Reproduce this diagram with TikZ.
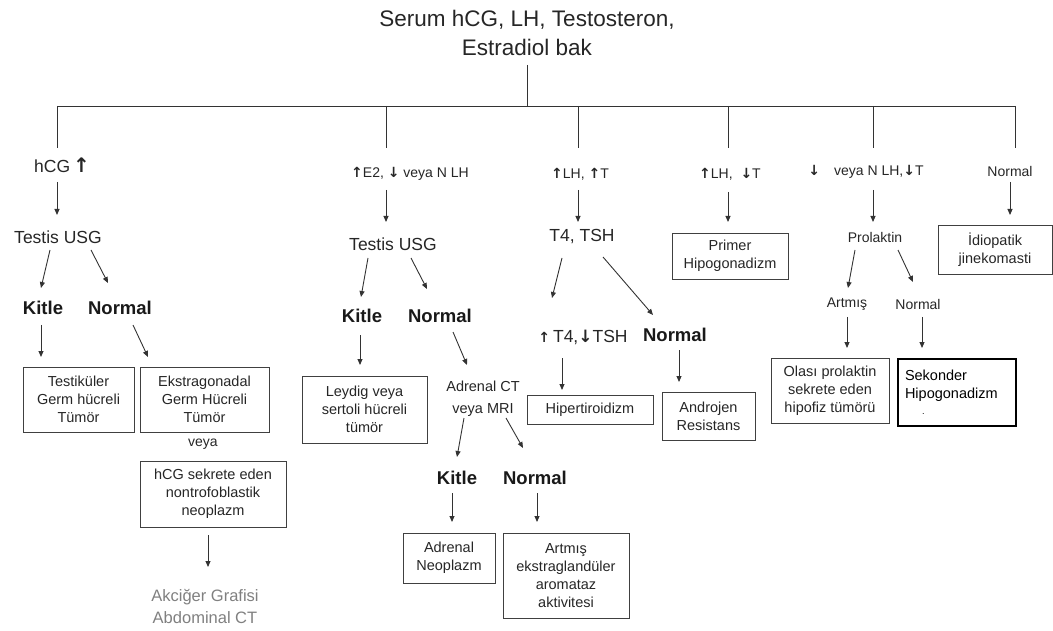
\documentclass[tikz,border=0pt]{standalone}
\usepackage{fontspec}
\setmainfont{Liberation Sans}
\newfontfamily\dejavu{DejaVu Sans}
\usetikzlibrary{arrows.meta}
\newcommand\UpA{{\dejavu\bfseries ↑}}
\newcommand\DnA{{\dejavu\bfseries ↓}}
\begin{document}
\begin{tikzpicture}[x=1pt,y=-1pt,
  ln/.style={draw=black!80, line width=0.9pt},
  arr/.style={ln, -{Triangle[length=6pt,width=5pt]}},
  box/.style={draw=black!75, line width=0.9pt, align=center, inner sep=2pt, text=black!85,
              font=\fontsize{14.5}{18}\selectfont},
  lab/.style={inner sep=0pt, align=center, text=black!85, font=\fontsize{14}{16}\selectfont},
  mid/.style={inner sep=0pt, align=center, text=black!85, font=\fontsize{17.5}{20}\selectfont},
  big/.style={inner sep=0pt, text=black!90, font=\fontsize{18.5}{20}\selectfont\bfseries},
  gr/.style={inner sep=0pt, align=center, text=black!50, font=\fontsize{16.5}{22}\selectfont}
]
\useasboundingbox (0,0) rectangle (1053,631);

% title and bus
\node[inner sep=0pt, align=center, text=black!85, font=\fontsize{22.5}{29}\selectfont] (title) at (527,33)
  {Serum hCG, LH, Testosteron,\\Estradiol bak};
\coordinate (bus) at (527,106);
\coordinate (b1) at (57,106);
\coordinate (b2) at (386,106);
\coordinate (b3) at (578,106);
\coordinate (b4) at (728,106);
\coordinate (b5) at (873,106);
\coordinate (b6) at (1015,106);
\draw[ln] ([shift={(0,32)}]title.center) -- (bus);
\draw[ln] (b1) -- (b6);
\foreach \c in {b1,b2,b3,b4,b5,b6} \draw[ln] (\c) -- ++(0,42);

% column 1
\node[mid] (hcg) at (62,165) {hCG\,{\fontsize{20}{20}\selectfont\UpA}};
\node[mid] (usg1) at (58,237) {Testis USG};
\node[big] (kitle1) at (43,308) {Kitle};
\node[big] (normal1) at (120,308) {Normal};
\node[box, minimum width=111pt, minimum height=65pt] (btest) at (78.5,399.5) {Testiküler\\Germ hücreli\\Tümör};
\node[box, minimum width=129pt, minimum height=65pt] (bekstra) at (204.5,399.5) {Ekstragonadal\\Germ Hücreli\\Tümör};
\node[lab] (veya1) at (203,444) {veya};
\node[box, minimum width=146pt, minimum height=66pt] (bhcgs) at (213,494) {hCG sekrete eden\\nontrofoblastik\\neoplazm};
\node[gr] (akc) at (205,606) {Akciğer Grafisi\\Abdominal CT};

\draw[arr] ([shift={(-5,17)}]hcg.center) -- ([shift={(-1,-22)}]usg1.center);
\draw[arr] ([shift={(-8,13)}]usg1.center) -- ([shift={(-2,-20)}]kitle1.center);
\draw[arr] ([shift={(33,13)}]usg1.center) -- ([shift={(-12,-25)}]normal1.center);
\draw[arr] ([shift={(-2,17)}]kitle1.center) -- ([shift={(-37.5,-42.5)}]btest.center);
\draw[arr] ([shift={(13,17)}]normal1.center) -- ([shift={(-56.5,-42.5)}]bekstra.center);
\draw[arr] ([shift={(-5,41)}]bhcgs.center) -- ([shift={(3,-39)}]akc.center);

% column 2
\node[lab] (c2) at (410,174) {\UpA E2, \DnA\ veya N LH};
\node[mid] (usg2) at (393,244) {Testis USG};
\node[big] (kitle2) at (362,316) {Kitle};
\node[big] (normal2) at (440,316) {Normal};
\node[box, minimum width=125pt, minimum height=67pt] (bleydig) at (364.5,409.5) {Leydig veya\\sertoli hücreli\\tümör};
\node[lab, font=\fontsize{14.5}{22}\selectfont] (adrct) at (483,399) {Adrenal CT\\veya MRI};
\node[big] (kitle3) at (457,478) {Kitle};
\node[big] (normal3) at (535,478) {Normal};
\node[box, minimum width=92pt, minimum height=50pt] (badrneo) at (449,558) {Adrenal\\Neoplazm};
\node[box, minimum width=126pt, minimum height=85pt] (bartmis) at (566,575.5) {Artmış\\ekstraglandüler\\aromataz\\aktivitesi};

\draw[arr] ([shift={(-24,16)}]c2.center) -- ([shift={(-7,-22)}]usg2.center);
\draw[arr] ([shift={(-25,14)}]usg2.center) -- ([shift={(-1,-19)}]kitle2.center);
\draw[arr] ([shift={(18,14)}]usg2.center) -- ([shift={(-13,-27)}]normal2.center);
\draw[arr] ([shift={(-2,19)}]kitle2.center) -- ([shift={(-4.5,-44.5)}]bleydig.center);
\draw[arr] ([shift={(13,16)}]normal2.center) -- ([shift={(-16,-34)}]adrct.center);
\draw[arr] ([shift={(-19,19)}]adrct.center) -- ([shift={(0,-21)}]kitle3.center);
\draw[arr] ([shift={(23,19)}]adrct.center) -- ([shift={(-12,-30)}]normal3.center);
\draw[arr] ([shift={(-5,15)}]kitle3.center) -- ([shift={(3,-36)}]badrneo.center);
\draw[arr] ([shift={(2,15)}]normal3.center) -- ([shift={(-29,-53.5)}]bartmis.center);

% column 3
\node[lab] (c3) at (580,174) {\UpA LH, \UpA T};
\node[mid] (t4tsh) at (582,237) {T4, TSH};
\node[mid] (t4lab) at (583,337) {{\fontsize{14}{16}\selectfont\UpA}\,T4,{\fontsize{17}{16}\selectfont\DnA}TSH};
\node[big] (normal4) at (675,335) {Normal};
\node[box, minimum width=126pt, minimum height=29pt] (bhiper) at (590,409.5) {Hipertiroidizm};
\node[box, minimum width=93pt, minimum height=48pt] (bandro) at (708.5,416) {Androjen\\Resistans};

\draw[arr] ([shift={(-2,16)}]c3.center) -- ([shift={(-4,-15)}]t4tsh.center);
\draw[arr] ([shift={(-20,21)}]t4tsh.center) -- ([shift={(-31,-39)}]t4lab.center);
\draw[arr] ([shift={(21,20)}]t4tsh.center) -- ([shift={(-22,-20)}]normal4.center);
\draw[arr] ([shift={(-21,21)}]t4lab.center) -- ([shift={(-28,-19.5)}]bhiper.center);
\draw[arr] ([shift={(4,15)}]normal4.center) -- ([shift={(-29.5,-34)}]bandro.center);

% column 4
\node[lab] (c4) at (730,174) {\UpA LH, \ \DnA T};
\node[box, minimum width=116pt, minimum height=46pt] (bprimer) at (730,256) {Primer\\Hipogonadizm};
\draw[arr] ([shift={(-2,18)}]c4.center) -- ([shift={(-2,-34)}]bprimer.center);

% column 5
\node[lab] (c5) at (866,172) {\DnA\quad veya N LH,\DnA T};
\node[lab] (prol) at (875,237) {Prolaktin};
\node[lab] (artmis) at (847,304) {Artmış};
\node[lab] (normal5) at (918,304) {Normal};
\node[box, minimum width=118pt, minimum height=65pt] (bolasi) at (830,390.5) {Olası prolaktin\\sekrete eden\\hipofiz tümörü};
\node[box, draw=black, line width=1.6pt, text=black, align=left, text width=104pt, inner sep=7pt,
      minimum height=67pt, font=\fontsize{14.5}{18}\selectfont] (bsek) at (957,392.5)
      {Sekonder\\Hipogonadizm\\[-2pt]\hspace*{17pt}{\fontsize{9}{9}\selectfont .}};

\draw[arr] ([shift={(7,18)}]c5.center) -- ([shift={(-2,-15)}]prol.center);
\draw[arr] ([shift={(-20,13)}]prol.center) -- ([shift={(1,-16)}]artmis.center);
\draw[arr] ([shift={(23,13)}]prol.center) -- ([shift={(-5,-22)}]normal5.center);
\draw[arr] ([shift={(0,13)}]artmis.center) -- ([shift={(17,-42.5)}]bolasi.center);
\draw[arr] ([shift={(4,13)}]normal5.center) -- ([shift={(-35,-44.5)}]bsek.center);

% column 6
\node[lab] (c6) at (1010,171) {Normal};
\node[box, minimum width=114pt, minimum height=49pt] (bidio) at (995,250) {İdiopatik\\jinekomasti};
\draw[arr] ([shift={(0,11)}]c6.center) -- ([shift={(15,-35)}]bidio.center);
\end{tikzpicture}
\end{document}
